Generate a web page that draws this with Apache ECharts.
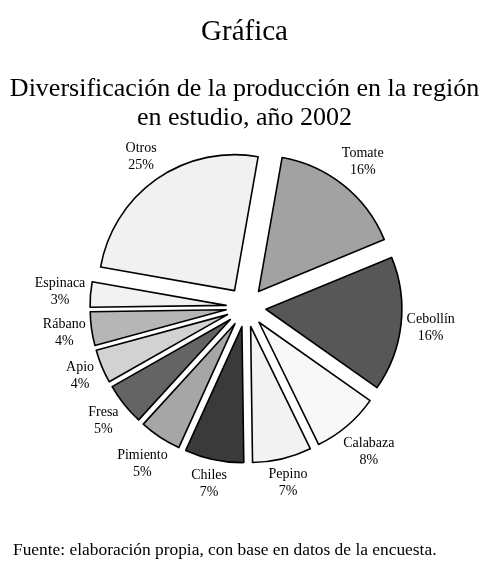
<!DOCTYPE html>
<html>
<head>
<meta charset="utf-8">
<script src="https://cdn.jsdelivr.net/npm/echarts@6/dist/echarts.min.js"></script>
<style>
  html, body { margin: 0; padding: 0; background: #fff; }
  #chart { width: 489px; height: 567px; }
</style>
</head>
<body>
<div id="chart"></div>
<script>
// datos de la gráfica
const categorias = ["Tomate", "Cebollín", "Calabaza", "Pepino", "Chiles", "Pimiento", "Fresa", "Apio", "Rábano", "Espinaca", "Otros"];
const porcentajes = [16, 16, 8, 7, 7, 5, 5, 4, 4, 3, 25];
const grises = ["#a2a2a2", "#575757", "#f8f8f8", "#f2f2f2", "#3a3a3a", "#a6a6a6", "#646464", "#d2d2d2", "#b6b6b6", "#f2f2f2", "#f1f1f1"];

const fuente = "Liberation Serif";
const centro = [246, 307];
const distEtiqueta = 160; // distancia del centro al borde más cercano de cada etiqueta

const chart = echarts.init(document.getElementById("chart"));

// rebanadas separadas del centro
const rebanadas = categorias.map(function (nombre, i) {
  return {
    name: nombre,
    value: porcentajes[i],
    selected: true,
    itemStyle: { color: grises[i] }
  };
});

// anillo invisible solo para colocar las etiquetas
const etiquetas = categorias.map(function (nombre, i) {
  return { name: nombre, value: porcentajes[i] };
});

const estiloTitulo = { fontFamily: fuente, fontWeight: "normal", color: "#000" };

const option = {
  backgroundColor: "#fff",
  animation: false,
  title: [
    {
      text: "Gráfica",
      left: "center",
      top: 13,
      textStyle: Object.assign({ fontSize: 29 }, estiloTitulo)
    },
    {
      text: "Diversificación de la producción en la región",
      left: "center",
      top: 71,
      textStyle: Object.assign({ fontSize: 26 }, estiloTitulo)
    },
    {
      text: "en estudio, año 2002",
      left: "center",
      top: 100,
      textStyle: Object.assign({ fontSize: 26 }, estiloTitulo)
    },
    {
      text: "Fuente: elaboración propia, con base en datos de la encuesta.",
      left: 8,
      top: 537,
      textStyle: Object.assign({ fontSize: 17.4 }, estiloTitulo)
    }
  ],
  series: [
    {
      type: "pie",
      center: centro,
      radius: 136,
      startAngle: 80,
      clockwise: true,
      selectedMode: "multiple",
      selectedOffset: 20,
      silent: true,
      itemStyle: { borderColor: "#000", borderWidth: 1.6 },
      label: { show: false },
      labelLine: { show: false },
      data: rebanadas
    },
    {
      type: "pie",
      center: centro,
      radius: [170, 190],
      startAngle: 80,
      clockwise: true,
      silent: true,
      itemStyle: { color: "rgba(0,0,0,0)", borderWidth: 0 },
      label: {
        show: true,
        position: "inside",
        formatter: "{b}\n{c}%",
        fontFamily: fuente,
        fontSize: 14,
        lineHeight: 17,
        color: "#000",
        align: "center"
      },
      labelLine: { show: false },
      // empuja cada etiqueta hacia fuera según su tamaño
      labelLayout: function (p) {
        const r = p.labelRect;
        let ux = r.x + r.width / 2 - centro[0];
        let uy = r.y + r.height / 2 - centro[1];
        const n = Math.sqrt(ux * ux + uy * uy);
        ux /= n;
        uy /= n;
        const d = distEtiqueta + (r.width / 2) * Math.abs(ux) + (r.height / 2) * Math.abs(uy);
        return {
          x: centro[0] + ux * d,
          y: centro[1] + uy * d,
          align: "center",
          verticalAlign: "middle"
        };
      },
      data: etiquetas
    }
  ]
};

chart.setOption(option);
</script>
</body>
</html>
